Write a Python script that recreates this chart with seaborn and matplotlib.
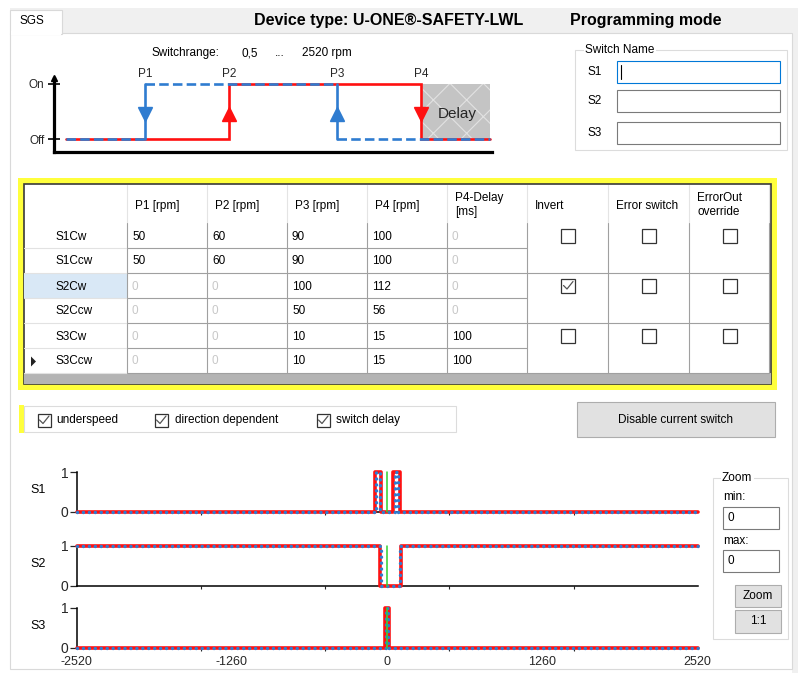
import matplotlib
matplotlib.use("Agg")
import pandas as pd
import matplotlib.pyplot as plt
import seaborn as sns
from matplotlib.patches import Rectangle, Polygon

# === Data
row_names = ["S1Cw", "S1Ccw", "S2Cw", "S2Ccw", "S3Cw", "S3Ccw"]
col_headers = ["P1 [rpm]", "P2 [rpm]", "P3 [rpm]", "P4 [rpm]", "P4-Delay\n[ms]",
               "Invert", "Error switch", "ErrorOut\noverride"]
p1_rpm = [50, 50, 0, 0, 0, 0]
p2_rpm = [60, 60, 0, 0, 0, 0]
p3_rpm = [90, 90, 100, 50, 10, 10]
p4_rpm = [100, 100, 112, 56, 15, 15]
p4_delay_ms = [0, 0, 0, 0, 100, 100]
invert = [False, True, False]
error_switch = [False, False, False]
errorout_override = [False, False, False]

options = ["underspeed", "direction dependent", "switch delay"]
options_checked = [True, True, True]
switch_labels = ["S1", "S2", "S3"]

# schematic (Switchrange diagram)
schem_points = ["P1", "P2", "P3", "P4"]
schem_x = [145, 229, 337, 421]
schem_arrow = ["v", "^", "^", "v"]
schem_color = ["blue", "red", "blue", "red"]
schem_start, schem_end = 66, 490

# signal traces: x in rpm, intervals where the state flips away from base
rpm_min, rpm_max = -2520, 2520
xtick_major = [-2520, -1260, 0, 1260, 2520]
xtick_minor = [-2520, -1512, -504, 504, 1512, 2520]
base_state = [0, 1, 0]
red_flips = [[(-100, -50), (50, 100)], [(-56, 112)], [(-15, 15)]]
blue_flips = [[(-90, -60), (60, 90)], [(-50, 100)], [(-10, 10)]]

# === Style
W, H = 798, 673
RED = "#ff1010"
BLUE = "#2f7cd0"
GREEN = "#30d030"
YELLOW = "#ffff3c"

sns.set_theme(style="white")
plt.rcParams["font.family"] = ["Liberation Sans", "DejaVu Sans"]
plt.rcParams["font.size"] = 8.5
plt.rcParams["hatch.linewidth"] = 0.8

fig = plt.figure(figsize=(W / 100, H / 100), dpi=100)
fig.patch.set_facecolor("white")


def px_rect(x0, y0, x1, y1):
    return [x0 / W, 1 - y1 / H, (x1 - x0) / W, (y1 - y0) / H]


bg = fig.add_axes([0, 0, 1, 1], zorder=0)
bg.set_xlim(0, W)
bg.set_ylim(H, 0)
bg.axis("off")


def box(x0, y0, x1, y1, fc="white", ec="none", lw=0.8, **kw):
    bg.add_patch(Rectangle((x0, y0), x1 - x0, y1 - y0, facecolor=fc, edgecolor=ec, lw=lw, **kw))


def txt(x, y, s, **kw):
    kw.setdefault("va", "center")
    kw.setdefault("color", "black")
    bg.text(x, y, s, **kw)


def checkbox(cx, cy, checked, size=14):
    box(cx - size / 2, cy - size / 2, cx + size / 2, cy + size / 2, fc="white", ec="#333333", lw=0.9)
    if checked:
        bg.plot([cx - 4.5, cx - 1, cx + 5], [cy, cy + 3.5, cy - 4], color="#555555", lw=0.9)


# === Window frame
box(10, 8, 798, 33, fc="#f0f0f0")
box(792, 8, 798, H, fc="#f0f0f0")
box(10, 33, 792, 669, fc="white", ec="#d9d9d9")
box(10, 10, 62, 34, fc="white", ec="#d9d9d9")
box(11, 31, 61, 35, fc="white")
txt(19, 21, "SGS")
txt(254, 20, "Device type: U-ONE\u00ae-SAFETY-LWL", fontsize=11.5, fontweight="bold")
txt(570, 20, "Programming mode", fontsize=11.5, fontweight="bold")

# === Switchrange text
txt(151, 53, "Switchrange:")
txt(242, 53, "0,5")
txt(275, 53, "...")
txt(302, 53, "2520 rpm")

# === Schematic diagram
sx = fig.add_axes(px_rect(54, 78, 492, 152), zorder=2)
sx.patch.set_alpha(0)
sx.set_xlim(54, 492)
sx.set_ylim((139 - 152) / 55, (139 - 78) / 55)
for s in ["top", "right"]:
    sx.spines[s].set_visible(False)
for s in ["left", "bottom"]:
    sx.spines[s].set_color("black")
    sx.spines[s].set_linewidth(2.3)
sx.set_xticks([])
sx.set_yticks([0, 1])
sx.set_yticklabels(["Off", "On"])
sx.tick_params(axis="y", direction="inout", length=8, width=1.4, pad=3, labelsize=8.5, left=True)
sx.plot([54], [sx.get_ylim()[1]], marker="^", ms=5, color="black", clip_on=False)

p1, p2, p3, p4 = schem_x
delay = Rectangle((p4, 0), schem_end - p4, 1, facecolor="#c4c4c4", edgecolor="#e2e2e2",
                  hatch="x", lw=0, zorder=1)
sx.add_patch(delay)
sx.text((p4 + schem_end) / 2 + 2, 0.45, "Delay", ha="center", va="center", fontsize=11, zorder=5)

sx.plot([schem_start, p2, p2, p4, p4, schem_end], [0, 0, 1, 1, 0, 0], color=RED, lw=1.9,
        solid_joinstyle="miter", zorder=2, clip_on=False)
blue_dash = dict(color=BLUE, lw=1.9, dashes=(3.6, 1.6), zorder=3, clip_on=False)
sx.plot([schem_start, p1], [0, 0], **blue_dash)
sx.plot([p1, p3], [1, 1], **blue_dash)
sx.plot([p3, schem_end], [0, 0], **blue_dash)
sx.plot([p1, p1], [0, 1], color=BLUE, lw=1.9, zorder=3)
sx.plot([p3, p3], [0, 1], color=BLUE, lw=1.9, zorder=3)
for name, xp, mk, col in zip(schem_points, schem_x, schem_arrow, schem_color):
    c = BLUE if col == "blue" else RED
    sx.plot([xp], [0.46], marker=mk, ms=10, color=c, mec=c, zorder=4, clip_on=False)
    sx.text(xp, 1.18, name, ha="center", va="center", fontsize=8.5)

# === Switch Name group
box(575, 50, 787, 150, fc="none", ec="#dcdcdc")
txt(585, 50, "Switch Name", bbox=dict(fc="white", ec="none", pad=1))
name_y = [(61, 83), (90, 112), (122, 144)]
for i, (lab, (y0, y1)) in enumerate(zip(switch_labels, name_y)):
    txt(588, (y0 + y1) / 2, lab)
    box(617, y0, 780, y1, fc="white", ec="#0078d7" if i == 0 else "#7a7a7a")
bg.plot([621, 621], [65, 79], color="black", lw=0.8)

# === Table
col_edges = [24, 127, 207, 287, 367, 447, 527, 608, 689, 769]
hdr_top, body_top, row_h = 184, 223, 25
body_bot = body_top + row_h * len(row_names)

box(18, 178, 777, 390, fc=YELLOW)
box(24, 184, 771, 384, fc="white", ec="#3a3a3a", lw=1.2)
box(24, body_top + 2 * row_h, 127, body_top + 3 * row_h, fc="#d9e8f6")

for xe in col_edges[1:]:
    bg.plot([xe, xe], [hdr_top + 1, body_top], color="#e4e4e4", lw=0.8)
    bg.plot([xe, xe], [body_top, body_bot], color="#a0a0a0", lw=0.8)
for r in range(1, len(row_names) + 1):
    yl = body_top + r * row_h
    bg.plot([24, 127], [yl, yl], color="#e2e2e2", lw=0.8)
    bg.plot([127, 527], [yl, yl], color="#a0a0a0", lw=0.8)
    if r % 2 == 0:
        bg.plot([527, 769], [yl, yl], color="#a0a0a0", lw=0.8)
box(24, body_bot, 771, 384, fc="#b4b4b4")

for j, head in enumerate(col_headers):
    x = col_edges[j + 1] + 8
    if "\n" in head:
        a, b = head.split("\n")
        txt(x, 198, a)
        txt(x, 212, b)
    else:
        txt(x, 206, head)

value_cols = [p1_rpm, p2_rpm, p3_rpm, p4_rpm, p4_delay_ms]
for i, name in enumerate(row_names):
    yc = body_top + i * row_h + row_h / 2 + 1
    txt(56, yc, name)
    for j, col in enumerate(value_cols):
        v = col[i]
        txt(col_edges[j + 1] + 5, yc, str(v), color="#c8c8c8" if v == 0 else "black")

for k in range(3):
    yc = body_top + 2 * k * row_h + row_h / 2
    for j, flags in enumerate([invert, error_switch, errorout_override]):
        cx = (col_edges[6 + j] + col_edges[7 + j]) / 2 + 0.5
        checkbox(cx, yc, flags[k])

ptr_y = body_top + 5 * row_h + row_h / 2 + 1
bg.add_patch(Polygon([(31, ptr_y - 5), (31, ptr_y + 5), (36, ptr_y)], closed=True, fc="#222222", ec="none"))

# === Options row
box(19, 405, 24, 433, fc=YELLOW)
box(24, 406, 456, 432, fc="white", ec="#dcdcdc")
for label, x0, xt, chk in zip(options, [44, 161, 323], [56, 175, 336], options_checked):
    checkbox(x0, 420, chk, size=13)
    txt(xt, 420, label)

box(577, 402, 775, 437, fc="#e1e1e1", ec="#adadad")
txt(676, 420, "Disable current switch", ha="center")

# === Zoom group
box(713, 478, 788, 639, fc="none", ec="#dcdcdc")
txt(722, 478, "Zoom", bbox=dict(fc="white", ec="none", pad=1))
txt(723, 497, "min:")
box(723, 507, 779, 529, fc="white", ec="#7a7a7a")
txt(727, 518, "0")
txt(723, 541, "max:")
box(723, 550, 779, 572, fc="white", ec="#7a7a7a")
txt(727, 561, "0")
box(735, 585, 781, 607, fc="#e1e1e1", ec="#adadad")
txt(758, 596, "Zoom", ha="center")
box(735, 610, 781, 633, fc="#e1e1e1", ec="#adadad")
txt(758, 621, "1:1", ha="center")


# === Signal plots
def step_trace(flips, base):
    xs, ys = [rpm_min], [base]
    for a, b in flips:
        xs += [a, a, b, b]
        ys += [base, 1 - base, 1 - base, base]
    xs.append(rpm_max)
    ys.append(base)
    return pd.DataFrame({"rpm": xs, "state": ys})


sig_rows = [(472.3, 511.7), (545.7, 585.7), (607.7, 647.7)]
for k, (y_top, y_bot) in enumerate(sig_rows):
    ax = fig.add_axes(px_rect(76.7, y_top, 697.7, y_bot), zorder=2)
    ax.patch.set_alpha(0)
    red_df = step_trace(red_flips[k], base_state[k])
    blue_df = step_trace(blue_flips[k], base_state[k])
    sns.lineplot(data=red_df, x="rpm", y="state", sort=False, estimator=None, ax=ax,
                 color=RED, lw=2.6, clip_on=False, zorder=3)
    sns.lineplot(data=blue_df, x="rpm", y="state", sort=False, estimator=None, ax=ax,
                 color=BLUE, lw=2.5, clip_on=False, zorder=4)
    ax.lines[-1].set_dashes((0.01, 1.7))
    ax.lines[-1].set_dash_capstyle("round")
    ax.plot([0, 0], [0, 1], color=GREEN, lw=1.1, zorder=5, clip_on=False)
    ax.set_xlim(rpm_min, rpm_max)
    ax.set_ylim(0, 1)
    ax.set_xlabel("")
    ax.set_ylabel("")
    for s in ["top", "right"]:
        ax.spines[s].set_visible(False)
    for s in ["left", "bottom"]:
        ax.spines[s].set_color("black")
        ax.spines[s].set_linewidth(1.1)
    ax.set_yticks([0, 1])
    ax.set_yticklabels(["0", "1"])
    ax.tick_params(axis="y", left=True, length=5, width=0.9, pad=1, labelsize=10, direction="out")
    ax.set_xticks(xtick_major)
    ax.set_xticks(xtick_minor, minor=True)
    ax.tick_params(axis="x", which="major", bottom=False, length=0, pad=6, labelsize=9)
    ax.tick_params(axis="x", which="minor", bottom=True, length=2.5, width=0.8, direction="out")
    if k < 2:
        ax.set_xticklabels([])
    else:
        ax.set_xticklabels([str(v) for v in xtick_major])
    txt(38, (y_top + y_bot) / 2 - 2, switch_labels[k], ha="center", fontsize=9)

fig.savefig("out.png", dpi=100)
